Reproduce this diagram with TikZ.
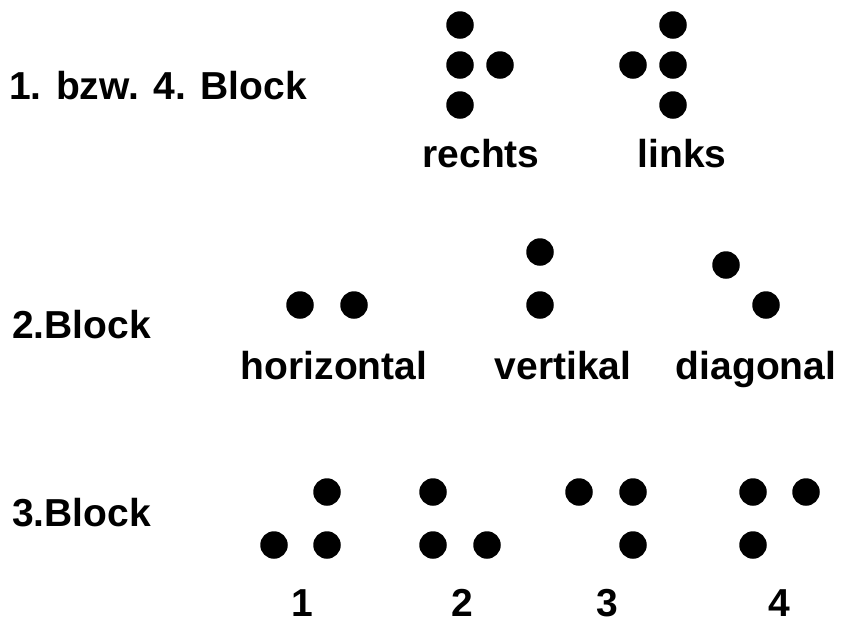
\documentclass[tikz,border=0pt]{standalone}
\usepackage{fontspec}
\setmainfont{Liberation Sans}
\begin{document}
\begin{tikzpicture}[x=1pt,y=-1pt,
  dot/.style={circle,fill=black,draw=none,inner sep=0pt,minimum size=27.5pt},
  lbl/.style={inner sep=0pt,anchor=base,font=\fontsize{39}{39}\selectfont\bfseries},
  head/.style={inner sep=0pt,anchor=base west,font=\fontsize{39}{39}\selectfont\bfseries}]
\useasboundingbox[fill=white] (0,0) rectangle (843,622);
% headings
\node[head] (h1) at (9,99) {1. bzw. 4. Block};
\node[head] (h2) at (12,338) {2.Block};
\node[head] (h3) at (12,526) {3.Block};
% block 1: rechts
\node[dot] (ra) at (460,25) {};
\node[dot] (rb) at (460,65) {};
\node[dot] (rc) at (500,65) {};
\node[dot] (rd) at (460,105) {};
\node[lbl] (rl) at (481,167) {rechts};
% links
\node[dot] (la) at (673,25) {};
\node[dot] (lb) at (673,65) {};
\node[dot] (lc) at (633,65) {};
\node[dot] (ld) at (673,105) {};
\node[lbl] (ll) at (682,167) {links};
% block 2
\node[dot] (ha) at (300,305) {};
\node[dot] (hb) at (354,305) {};
\node[lbl] (hl) at (334,379) {horizontal};
\node[dot] (va) at (540,252) {};
\node[dot] (vb) at (540,305) {};
\node[lbl] (vl) at (563,379) {vertikal};
\node[dot] (da) at (726,265) {};
\node[dot] (db) at (766,305) {};
\node[lbl] (dl) at (756,379) {diagonal};
% block 3
\node[dot] (aa) at (327,492) {};
\node[dot] (ab) at (274,545) {};
\node[dot] (ac) at (327,545) {};
\node[lbl] (al) at (302,616) {1};
\node[dot] (ba) at (433,492) {};
\node[dot] (bb) at (433,545) {};
\node[dot] (bc) at (487,545) {};
\node[lbl] (bl) at (462,616) {2};
\node[dot] (ca) at (579,492) {};
\node[dot] (cb) at (633,492) {};
\node[dot] (cc) at (633,545) {};
\node[lbl] (cl) at (607,616) {3};
\node[dot] (ea) at (753,492) {};
\node[dot] (eb) at (806,492) {};
\node[dot] (ec) at (753,545) {};
\node[lbl] (el) at (779,616) {4};
\end{tikzpicture}
\end{document}
